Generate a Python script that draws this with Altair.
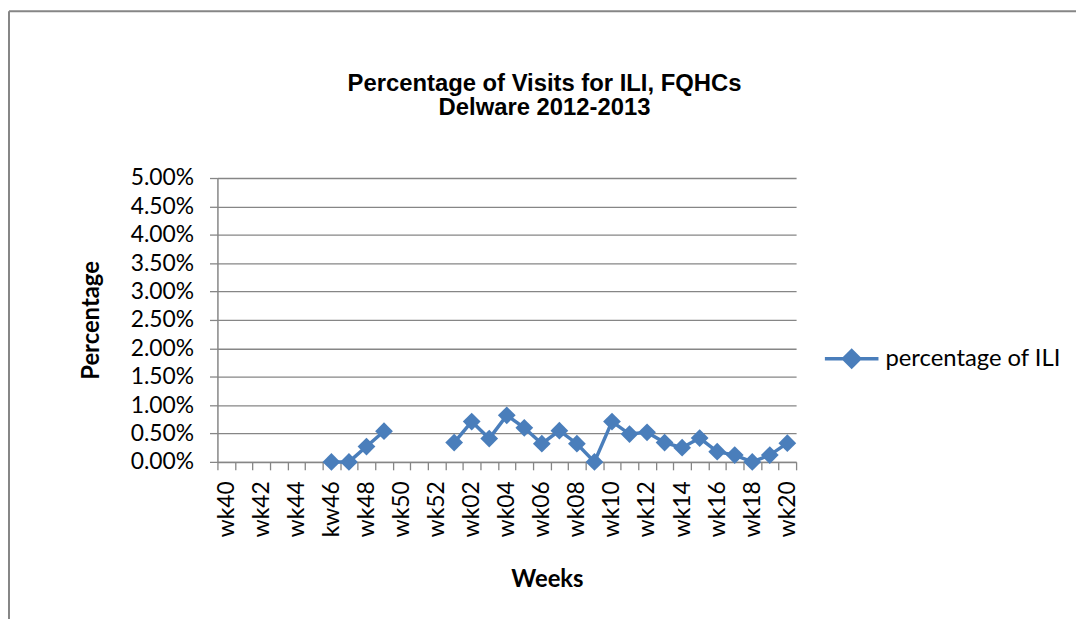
import json
import altair as alt
import pandas as pd

weeks = ["wk40", "wk41", "wk42", "wk43", "wk44", "wk45", "kw46", "wk47", "wk48", "wk49",
         "wk50", "wk51", "wk52", "wk01", "wk02", "wk03", "wk04", "wk05", "wk06", "wk07",
         "wk08", "wk09", "wk10", "wk11", "wk12", "wk13", "wk14", "wk15", "wk16", "wk17",
         "wk18", "wk19", "wk20"]
# percentage of ILI (in percent); None = no report
ili_pct = [None, None, None, None, None, None, 0.00, 0.00, 0.27, 0.54,
           None, None, None, 0.34, 0.71, 0.41, 0.82, 0.60, 0.32, 0.55,
           0.32, 0.00, 0.71, 0.49, 0.52, 0.34, 0.25, 0.42, 0.18, 0.12,
           0.00, 0.12, 0.33]
series_name = "percentage of ILI"
y_ticks = [0.0, 0.005, 0.01, 0.015, 0.02, 0.025, 0.03, 0.035, 0.04, 0.045, 0.05]

rows = []
seg = 0
prev_none = True
for i, (w, v) in enumerate(zip(weeks, ili_pct)):
    if v is not None and prev_none:
        seg += 1
    prev_none = v is None
    if v is not None:
        rows.append({"week": w, "pos": i + 0.5, "value": v / 100.0, "segment": seg,
                     "series": series_name})
df = pd.DataFrame(rows)

n = len(weeks)
GRAY = "#868686"
BLUE = "#4a7ebb"
W, H = 583, 286
band = W / n

label_expr = ("(datum.value % 2 == 0 && datum.value < " + str(n) + ") ? "
              + json.dumps(weeks) + "[datum.value] : ''")

x_enc = alt.X(
    "pos:Q",
    scale=alt.Scale(domain=[0, n], nice=False, zero=False),
    axis=alt.Axis(
        values=list(range(n + 1)), labelExpr=label_expr, labelOffset=band / 2,
        labelAngle=270, labelAlign="right", labelBaseline="middle",
        labelOverlap=False, labelFlush=False, labelPadding=11,
        tickSize=8, grid=False,
        title="Weeks", titleX=332, titleY=119, titleAlign="center",
        titleBaseline="middle", titleAngle=0,
    ),
)
y_enc = alt.Y(
    "value:Q",
    scale=alt.Scale(domain=[0, 0.05], nice=False),
    axis=alt.Axis(
        values=y_ticks, format=".2%", tickSize=8, labelPadding=16,
        labelOverlap=False, labelFlush=False,
        grid=True, title="Percentage", titleAngle=270, titleX=-127, titleY=143,
        titleAlign="center", titleBaseline="middle",
    ),
)

line = alt.Chart(df).mark_line(color=BLUE, strokeWidth=3.5).encode(
    x=x_enc, y=y_enc, detail="segment:N"
)
points = alt.Chart(df).mark_point(shape="diamond", filled=True, size=320, opacity=1).encode(
    x=x_enc, y=y_enc,
    color=alt.Color(
        "series:N", scale=alt.Scale(range=[BLUE]),
        legend=alt.Legend(
            title=None, orient="none", legendX=610, legendY=153,
            symbolType="M-1,0L1,0M0,-0.3L0.3,0L0,0.3L-0.3,0Z",
            symbolSize=2916, symbolFillColor=BLUE, symbolStrokeColor=BLUE,
            symbolStrokeWidth=3.5, labelOffset=5, padding=0, labelLimit=0,
            labelFont="Lato", labelFontSize=24, labelColor="#000000",
        ),
    ),
)

border_v = alt.Chart().mark_rule(color=GRAY, strokeWidth=2).encode(
    x=alt.value(-210), y=alt.value(-168), y2=alt.value(700)
)
border_h = alt.Chart().mark_rule(color=GRAY, strokeWidth=2).encode(
    x=alt.value(-210), x2=alt.value(1000), y=alt.value(-168)
)

chart = alt.layer(border_v, border_h, line, points).properties(
    width=W, height=H,
    autosize=alt.AutoSizeParams(type="none"),
    padding={"left": 211, "top": 169, "right": 282, "bottom": 156},
    title=alt.TitleParams(
        text=["Percentage of Visits for ILI, FQHCs", "Delware 2012-2013"],
        font="Liberation Sans", fontSize=24, fontWeight="bold", color="#000000",
        lineHeight=25, anchor="middle", frame="group", dx=38, offset=-135,
        baseline="bottom",
    ),
).configure_view(stroke=None).configure_axis(
    domainColor=GRAY, tickColor=GRAY, gridColor=GRAY, domainWidth=1.5,
    tickWidth=1.3, gridWidth=1.3, labelFont="Lato", labelFontSize=23,
    labelColor="#000000", titleFont="Lato", titleFontSize=24, titleFontWeight="bold",
    titleColor="#000000", labelOverlap=False,
)

chart.save("out.html", embed_options={"renderer": "svg", "actions": False})
